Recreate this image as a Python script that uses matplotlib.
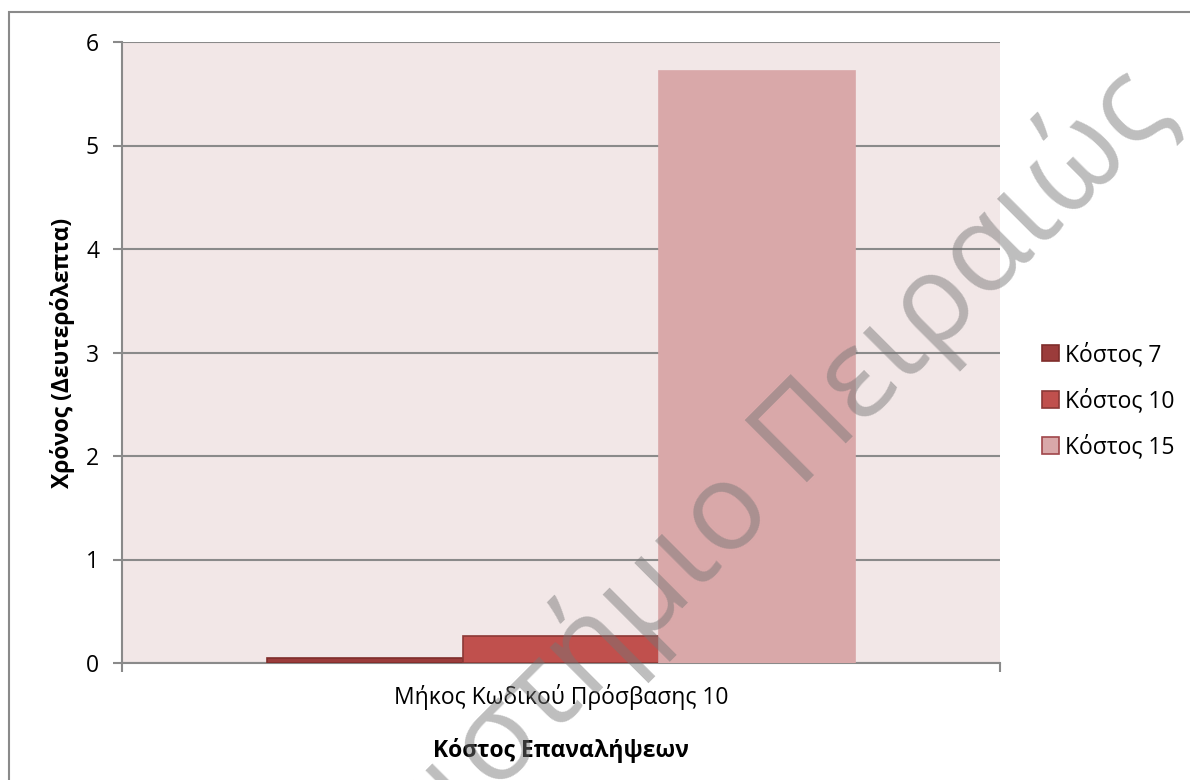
import matplotlib
matplotlib.use("Agg")
import matplotlib.pyplot as plt
from matplotlib.patches import Patch, Rectangle
import numpy as np

# run time per iteration cost, password length 10
categories = ["Μήκος Κωδικού Πρόσβασης 10"]
series_names = ["Κόστος 7", "Κόστος 10", "Κόστος 15"]
cost_7 = [0.05]
cost_10 = [0.26]
cost_15 = [5.72]

fills = ["#9b3c3b", "#c0504d", "#d9a8a9"]
edges = ["#7f2d2b", "#8c3836", "#d9a8a9"]
legend_edges = ["#7f2d2b", "#8c3836", "#a0464a"]

plt.rcParams["font.family"] = ["Open Sans", "DejaVu Sans"]
FS = 16.5

fig = plt.figure(figsize=(11.9, 7.8), dpi=100)
ax = fig.add_axes([122 / 1190, 1 - 663 / 780, 878 / 1190, 621 / 780])
ax.set_facecolor("#f2e7e7")

x = np.arange(len(categories))
w = 0.67 / 3
for i, vals in enumerate([cost_7, cost_10, cost_15]):
    ax.bar(x + (i - 1) * w, vals, width=w, color=fills[i], edgecolor=edges[i],
           linewidth=1.2, zorder=3)

ax.set_xlim(-0.5, 0.5)
ax.set_ylim(0, 6)
ax.set_yticks(range(0, 7))
ax.yaxis.grid(True, color="#8a8a8a", linewidth=1.5, zorder=1)
ax.set_axisbelow(True)

ax.set_xticks([-0.5, 0.5])
ax.set_xticklabels([])
ax.set_xticks(x, minor=True)
ax.set_xticklabels(categories, minor=True, fontsize=FS)
ax.tick_params(axis="x", which="minor", length=0, pad=15)
ax.tick_params(axis="x", which="major", length=6.5, color="#8a8a8a", width=1.5)
ax.tick_params(axis="y", length=6.5, color="#8a8a8a", width=1.5, labelsize=FS, pad=10)

for s in ["top", "right"]:
    ax.spines[s].set_visible(False)
for s in ["left", "bottom"]:
    ax.spines[s].set_color("#8a8a8a")
    ax.spines[s].set_linewidth(1.5)

ax.set_xlabel("Κόστος Επαναλήψεων", fontsize=FS, fontweight="bold", labelpad=20)
ax.set_ylabel("Χρόνος (Δευτερόλεπτα)", fontsize=FS, fontweight="bold", labelpad=8)

handles = [Patch(facecolor=fills[i], edgecolor=legend_edges[i], linewidth=1.2)
           for i in range(3)]
fig.legend(handles, series_names, loc="center left",
           bbox_to_anchor=(1021 / 1190, 1 - 401 / 780), frameon=False,
           fontsize=FS, handlelength=0.75, handleheight=0.75,
           handletextpad=0.25, labelspacing=0.95)

# outer chart border
fig.patches.append(Rectangle((9 / 1190, -0.1), 1.2, 0.1 + (1 - 12 / 780),
                             transform=fig.transFigure, fill=False,
                             edgecolor="#8a8a8a", linewidth=1.5))

# repository watermark
fig.text(1175 / 1190, 1 - 115 / 780, "Πανεπιστήμιο Πειραιώς", fontsize=88,
         color="#757575", alpha=0.47, rotation=45, rotation_mode="anchor",
         ha="right", va="baseline", zorder=10)

fig.savefig("out.png", dpi=100)
